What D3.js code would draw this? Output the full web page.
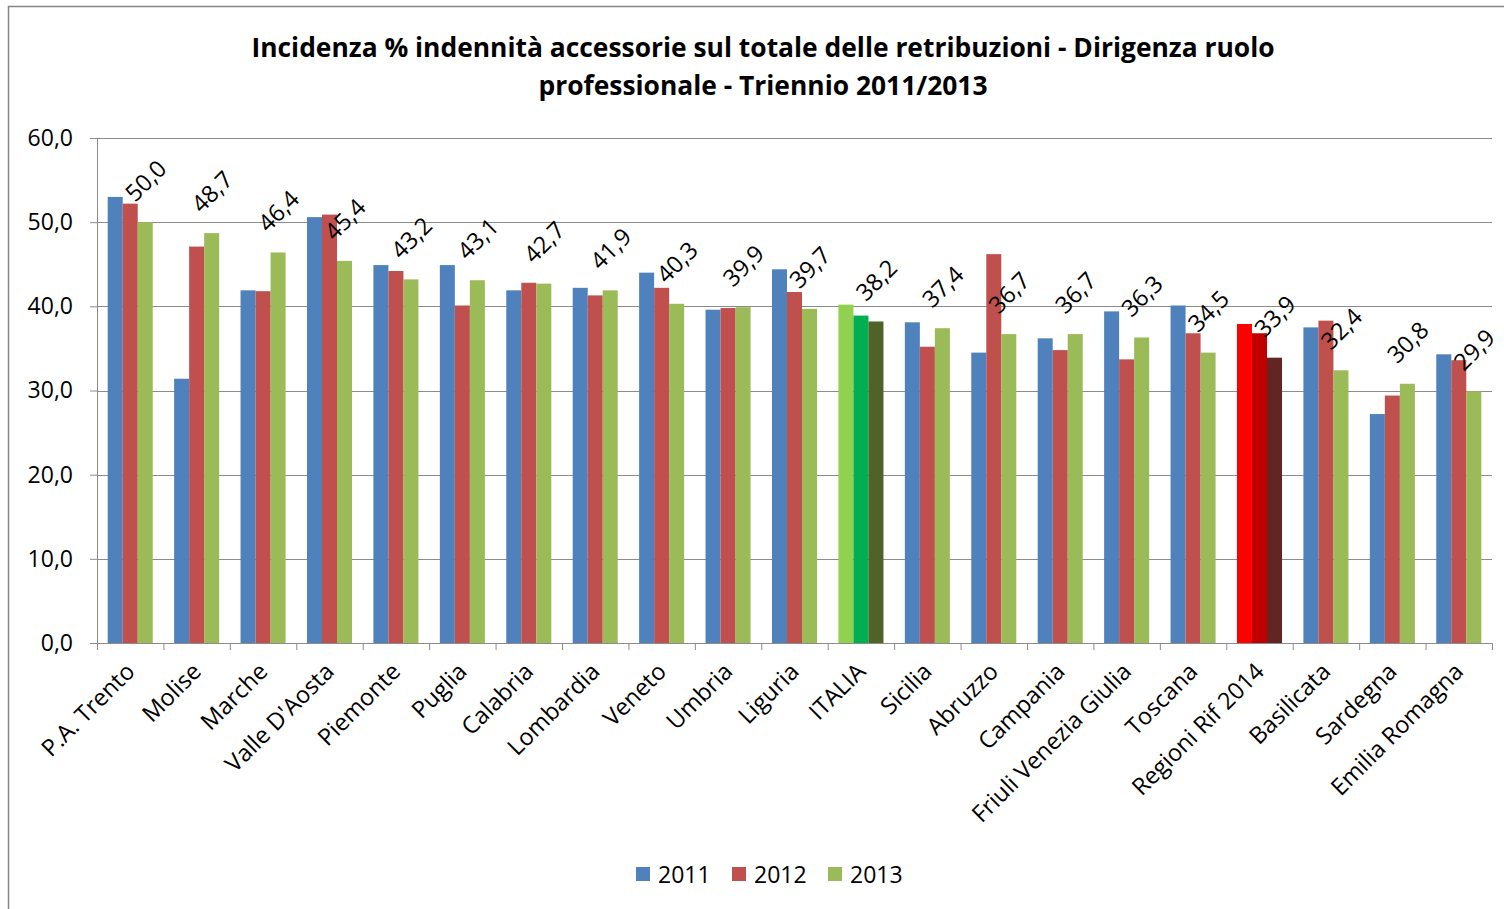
<!DOCTYPE html>
<html>
<head>
<meta charset="utf-8">
<script src="https://cdn.jsdelivr.net/npm/d3@7"></script>
<style>
  body { margin: 0; background: #fff; }
  svg text { font-family: "Open Sans", sans-serif; fill: #000; }
</style>
</head>
<body>
<svg id="chart" width="1504" height="909"></svg>
<script>
// Dati
const categories = ["P.A. Trento", "Molise", "Marche", "Valle D'Aosta", "Piemonte", "Puglia",
  "Calabria", "Lombardia", "Veneto", "Umbria", "Liguria", "ITALIA", "Sicilia", "Abruzzo",
  "Campania", "Friuli Venezia Giulia", "Toscana", "Regioni Rif 2014", "Basilicata",
  "Sardegna", "Emilia Romagna"];
const years = ["2011", "2012", "2013"];
const values2011 = [53.0, 31.4, 41.9, 50.6, 44.9, 44.9, 41.9, 42.2, 44.0, 39.6, 44.4, 40.2, 38.1, 34.5, 36.2, 39.4, 40.1, 37.9, 37.5, 27.2, 34.3];
const values2012 = [52.2, 47.1, 41.8, 50.9, 44.2, 40.1, 42.8, 41.3, 42.2, 39.8, 41.7, 38.9, 35.2, 46.2, 34.8, 33.7, 36.8, 36.8, 38.3, 29.4, 33.6];
const values2013 = [50.0, 48.7, 46.4, 45.4, 43.2, 43.1, 42.7, 41.9, 40.3, 39.9, 39.7, 38.2, 37.4, 36.7, 36.7, 36.3, 34.5, 33.9, 32.4, 30.8, 29.9];
const yTicks = [0, 10, 20, 30, 40, 50, 60];

const seriesColors = ["#4F81BD", "#C0504D", "#9BBB59"];
// colori speciali per ITALIA e Regioni Rif 2014
const specialColors = {
  "ITALIA": ["#92D050", "#00B050", "#4F6228"],
  "Regioni Rif 2014": ["#FF0000", "#C00000", "#632523"]
};

const fmt = v => d3.format(".1f")(v).replace(".", ",");

const svg = d3.select("#chart");

// Cornice
svg.append("rect")
  .attr("x", 8.5).attr("y", 6.5)
  .attr("width", 1520).attr("height", 920)
  .attr("fill", "none")
  .attr("stroke", "#868686")
  .attr("stroke-width", 1.5);

// Titolo
const title = svg.append("text")
  .attr("text-anchor", "middle")
  .attr("font-weight", "bold")
  .attr("font-size", 26.4);
title.append("tspan").attr("x", 763).attr("y", 57)
  .text("Incidenza % indennità accessorie sul totale delle retribuzioni - Dirigenza ruolo");
title.append("tspan").attr("x", 763).attr("y", 95)
  .text("professionale - Triennio 2011/2013");

// Scale
const plot = { left: 97, right: 1492, top: 138, bottom: 643 };

const x0 = d3.scaleBand()
  .domain(categories)
  .range([plot.left, plot.right])
  .padding(0);

const groupW = x0.bandwidth() * 0.678;
const x1 = d3.scaleBand()
  .domain(years)
  .range([0, groupW])
  .padding(0);

const y = d3.scaleLinear()
  .domain([0, 60])
  .range([plot.bottom, plot.top]);

// Griglia
svg.append("g")
  .selectAll("line")
  .data(yTicks.filter(d => d > 0))
  .enter().append("line")
  .attr("x1", plot.left).attr("x2", plot.right)
  .attr("y1", d => Math.round(y(d)) + 0.5)
  .attr("y2", d => Math.round(y(d)) + 0.5)
  .attr("stroke", "#8c8c8c")
  .attr("stroke-width", 1);

// Barre
const rows = categories.map((c, i) => ({
  cat: c,
  vals: [values2011[i], values2012[i], values2013[i]]
}));

const groups = svg.append("g")
  .selectAll("g")
  .data(rows)
  .enter().append("g")
  .attr("transform", d => `translate(${x0(d.cat) + (x0.bandwidth() - groupW) / 2},0)`);

groups.selectAll("rect")
  .data(d => d.vals.map((v, j) => ({ cat: d.cat, year: years[j], j: j, v: v })))
  .enter().append("rect")
  .attr("x", d => x1(d.year))
  .attr("width", x1.bandwidth())
  .attr("y", d => y(d.v))
  .attr("height", d => y(0) - y(d.v))
  .attr("fill", d => (specialColors[d.cat] || seriesColors)[d.j]);

// Etichette valori 2013
svg.append("g")
  .selectAll("text")
  .data(rows)
  .enter().append("text")
  .attr("transform", d => {
    const cx = x0(d.cat) + (x0.bandwidth() - groupW) / 2 + x1("2013") + x1.bandwidth() / 2;
    const cy = y(d.vals[2]) - 42;
    return `translate(${cx},${cy}) rotate(-45)`;
  })
  .attr("text-anchor", "middle")
  .attr("dominant-baseline", "central")
  .attr("font-size", 23.5)
  .text(d => fmt(d.vals[2]));

// Asse Y
const yAxis = svg.append("g")
  .attr("transform", `translate(${plot.left},0)`)
  .call(d3.axisLeft(y).tickValues(yTicks).tickSize(7).tickFormat(fmt));
yAxis.select(".domain").attr("stroke", "#8c8c8c");
yAxis.selectAll(".tick line").attr("stroke", "#8c8c8c");
yAxis.selectAll(".tick text")
  .attr("font-size", 23)
  .attr("x", -24)
  .attr("fill", "#000")
  .style("font-family", "\"Open Sans\", sans-serif");

// Asse X
const xAxis = svg.append("g")
  .attr("transform", `translate(0,${plot.bottom})`)
  .call(d3.axisBottom(x0).tickSize(0).tickFormat(""));
xAxis.select(".domain").attr("stroke", "#8c8c8c");
xAxis.selectAll(".tick").remove();

// tacche tra le categorie
svg.append("g")
  .selectAll("line")
  .data(categories.concat(["__end"]))
  .enter().append("line")
  .attr("x1", (d, i) => plot.left + i * x0.step() + 0.5)
  .attr("x2", (d, i) => plot.left + i * x0.step() + 0.5)
  .attr("y1", plot.bottom)
  .attr("y2", plot.bottom + 7)
  .attr("stroke", "#8c8c8c");

svg.append("g")
  .selectAll("text")
  .data(categories)
  .enter().append("text")
  .attr("transform", d => `translate(${x0(d) + x0.bandwidth() / 2 + 6},${plot.bottom + 30}) rotate(-45)`)
  .attr("text-anchor", "end")
  .attr("font-size", 23.5)
  .text(d => d);

// Legenda
const legend = svg.append("g").attr("transform", "translate(636,867)");
const legendX = [0, 96, 192];
years.forEach((yr, j) => {
  const item = legend.append("g").attr("transform", `translate(${legendX[j]},0)`);
  item.append("rect")
    .attr("width", 14).attr("height", 14)
    .attr("fill", seriesColors[j]);
  item.append("text")
    .attr("x", 22).attr("y", 7)
    .attr("dominant-baseline", "central")
    .attr("font-size", 23)
    .text(yr);
});
</script>
</body>
</html>
